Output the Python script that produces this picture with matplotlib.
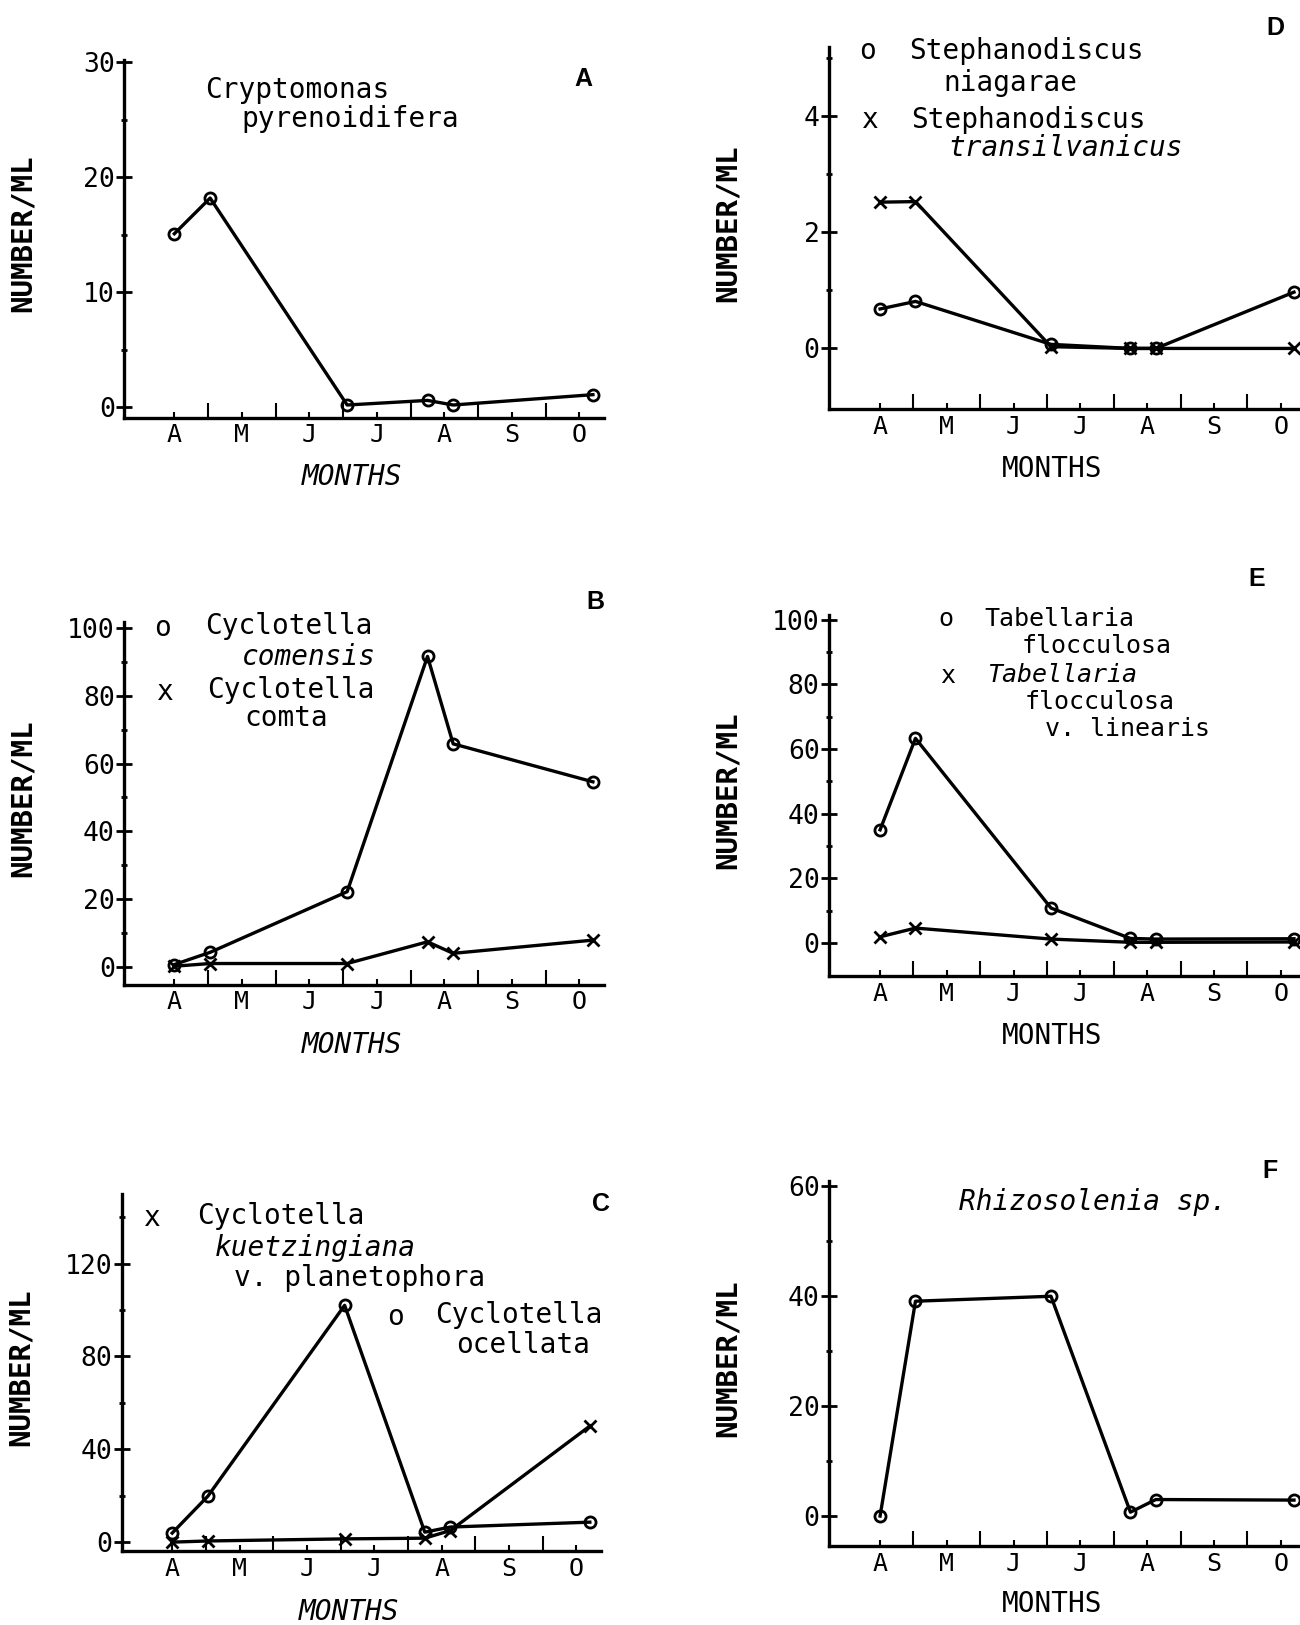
import matplotlib
matplotlib.use("Agg")
import matplotlib.pyplot as plt

# sampling dates, in months after the start of April
sample_x = [0, 0.53, 2.56, 3.75, 4.13, 6.2]
months = ["A", "M", "J", "J", "A", "S", "O"]

crypto = [15.1, 18.2, 0.2, 0.6, 0.2, 1.1]

comensis = [0.7, 4.3, 22.2, 91.6, 65.8, 54.6]
comta = [0.2, 1.0, 1.0, 7.4, 4.0, 7.9]

ocellata = [3.9, 19.8, 102.0, 4.3, 6.5, 8.6]
kuetzing = [0.0, 0.5, 1.4, 1.7, 5.0, 50.0]

niagarae = [0.68, 0.81, 0.07, 0.0, 0.0, 0.97]
transilv = [2.52, 2.53, 0.03, 0.0, 0.0, 0.0]

flocc = [35.0, 63.3, 10.8, 1.4, 1.2, 1.3]
linearis = [1.9, 4.6, 1.2, 0.2, 0.2, 0.3]

rhizo = [0.0, 39.1, 40.0, 0.7, 3.0, 2.9]

MONO = "DejaVu Sans Mono"
W, H = 1254.0, 1568.0


def fx(x):
    return x / W


def fy(y):
    return 1 - y / H


fig = plt.figure(figsize=(13, 16.25), dpi=100)


def panel(x0, y0, x1, y1, xlim, ylim, yticks, yminor, letter, lpos, mlabel_y, italic):
    ax = fig.add_axes([fx(x0), fy(y1), fx(x1) - fx(x0), (y1 - y0) / H])
    ax.set_xlim(*xlim)
    ax.set_ylim(*ylim)
    for s in ["top", "right"]:
        ax.spines[s].set_visible(False)
    for s in ["left", "bottom"]:
        ax.spines[s].set_linewidth(2.4)
    ax.set_yticks(yticks)
    ax.set_yticklabels([str(v) for v in yticks], fontfamily=MONO, fontsize=19)
    ax.set_yticks(yminor, minor=True)
    ax.tick_params(axis="y", which="major", direction="inout", length=12, width=2, pad=1)
    ax.tick_params(axis="y", which="minor", direction="inout", length=5, width=2)
    ax.set_xticks(range(7))
    ax.set_xticklabels(months, fontfamily=MONO, fontsize=18)
    ax.set_xticks([0.5, 1.5, 2.5, 3.5, 4.5, 5.5], minor=True)
    ax.tick_params(axis="x", which="major", direction="in", length=4, width=1.5, pad=4)
    ax.tick_params(axis="x", which="minor", direction="in", length=11, width=1.5)
    fig.text(fx(lpos[0]), fy(lpos[1]), letter, fontfamily="Liberation Sans",
             fontweight="bold", fontsize=18, ha="center", va="center")
    fig.text(fx((x0 + x1) / 2 - 12), fy(mlabel_y), "MONTHS", fontfamily=MONO,
             fontsize=20, style="italic" if italic else "normal", ha="center", va="center")
    fig.text(fx(x0 - 98), fy((y0 + y1) / 2 - 5), "NUMBER/ML", fontfamily=MONO,
             fontweight="bold", fontsize=21, rotation=90, ha="center", va="center")
    return ax


def series(ax, y, marker, ms=8):
    ax.plot(sample_x, y, color="black", lw=2.4, marker=marker, ms=ms,
            mfc="none", mec="black", mew=2)


def label(x, y, s, italic=False, size=20):
    fig.text(fx(x), fy(y), s, fontfamily=MONO, fontsize=size,
             style="italic" if italic else "normal", ha="left", va="center")


# A
axA = panel(120, 58, 583, 403, (-0.74, 6.37), (-0.9, 30.2), [0, 10, 20, 30],
            [5, 15, 25], "A", (563, 76), 460, True)
series(axA, crypto, "o")
label(198, 87, "Cryptomonas")
label(233, 115, "pyrenoidifera")

# B
axB = panel(120, 600, 583, 950, (-0.74, 6.37), (-5.2, 101.8), [0, 20, 40, 60, 80, 100],
            [10, 30, 50, 70, 90], "B", (574, 581), 1008, True)
series(axB, comensis, "o")
series(axB, comta, "x", ms=9)
label(149, 606, "o")
label(198, 604, "Cyclotella")
label(233, 634, "comensis", italic=True)
label(151, 668, "x")
label(200, 666, "Cyclotella")
label(236, 693, "comta")

# C
axC = panel(118, 1152, 580, 1497, (-0.74, 6.37), (-4.0, 150), [0, 40, 80, 120],
            [20, 60, 100, 140], "C", (580, 1162), 1555, True)
series(axC, ocellata, "o")
series(axC, kuetzing, "x", ms=9)
label(139, 1175, "x")
label(190, 1173, "Cyclotella")
label(207, 1204, "kuetzingiana", italic=True)
label(226, 1233, "v. planetophora")
label(373, 1271, "o")
label(420, 1269, "Cyclotella")
label(440, 1298, "ocellata")

# D
axD = panel(800, 45, 1254, 395, (-0.76, 6.29), (-1.05, 5.2), [0, 2, 4],
            [1, 3, 5], "D", (1230, 27), 453, False)
series(axD, niagarae, "o")
series(axD, transilv, "x", ms=9)
label(829, 49, "o")
label(877, 49, "Stephanodiscus")
label(910, 80, "niagarae")
label(831, 116, "x")
label(879, 116, "Stephanodiscus")
label(915, 143, "transilvanicus", italic=True)

# E
axE = panel(800, 593, 1254, 942, (-0.76, 6.29), (-10.3, 101.6), [0, 20, 40, 60, 80, 100],
            [10, 30, 50, 70, 90], "E", (1212, 559), 1000, False)
series(axE, flocc, "o")
series(axE, linearis, "x", ms=9)
label(905, 597, "o", size=18)
label(950, 597, "Tabellaria", size=18)
label(985, 623, "flocculosa", size=18)
label(907, 652, "x", size=18)
label(952, 651, "Tabellaria", italic=True, size=18)
label(988, 677, "flocculosa", size=18)
label(1008, 703, "v. linearis", size=18)

# F
axF = panel(800, 1140, 1254, 1492, (-0.76, 6.29), (-5.5, 60.9), [0, 20, 40, 60],
            [10, 30, 50], "F", (1225, 1130), 1548, False)
series(axF, rhizo, "o")
label(925, 1160, "Rhizosolenia sp.", italic=True)

fig.savefig("out.png", dpi=100)
